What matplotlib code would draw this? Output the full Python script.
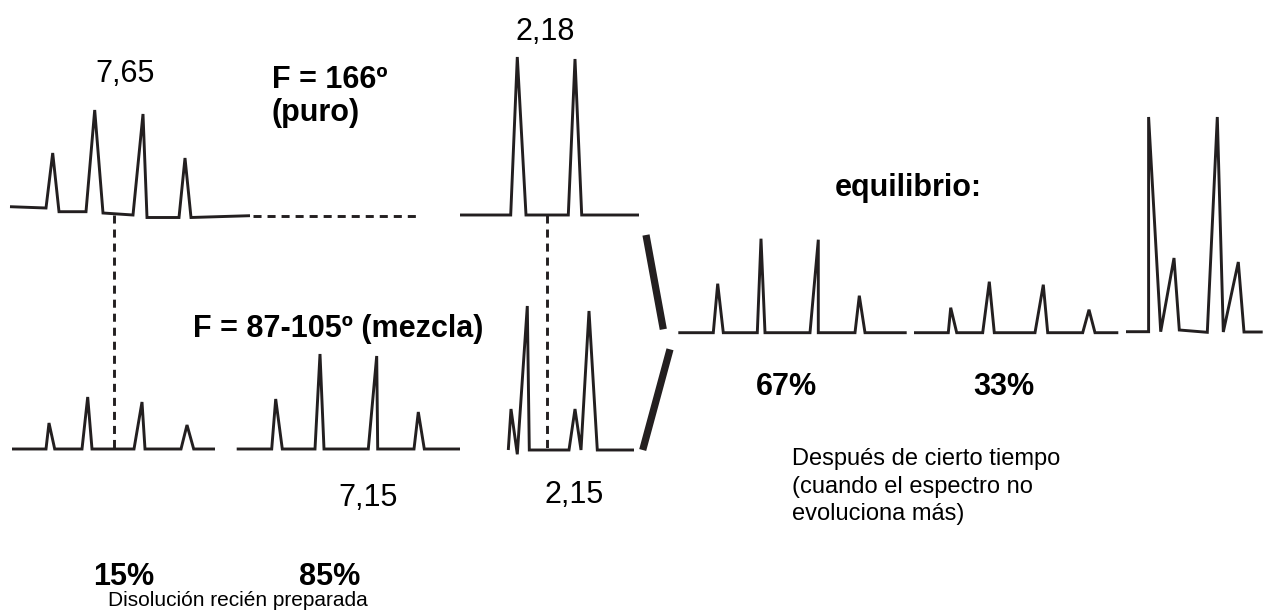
import matplotlib
matplotlib.use("Agg")
import matplotlib.pyplot as plt
import numpy as np

plt.rcParams["font.family"] = ["Liberation Sans", "DejaVu Sans"]
plt.rcParams["lines.scale_dashes"] = False

INK = "#231f20"

# --- Spectrum traces: vertex positions (x) and intensity above baseline (h) ---
# Pure compound (F = 166º): aromatic region and aliphatic region
pure_arom_x = [10, 46, 52.7, 59, 86, 94.7, 103, 133, 143, 147, 179, 185, 191, 250]
pure_arom_h = [8.3, 7, 62, 3.3, 3.3, 105, 2, 0, 101, -2.5, -2.5, 57, -2.5, -0.7]
pure_aliph_x = [460, 510.7, 517.3, 526, 568.3, 575, 581.7, 639]
pure_aliph_h = [0, 0, 158, 0, 0, 156, 0, 0]

# Mixture (F = 87-105º), freshly prepared solution
minor_arom_x = [12, 46, 49, 54.7, 82, 87.7, 92, 134, 142, 145, 181, 187, 193.7, 215]
minor_arom_h = [0, 0, 26, 0, 0, 52, 0, 0, 47, 0, 0, 24, 0, 0]
major_arom_x = [236.7, 271.7, 275.7, 282.3, 315, 320, 324, 368.3, 376.7, 377.7,
                414, 418.3, 424.3, 460]
major_arom_h = [0, 0, 50, 0, 0, 95, 0, 0, 93, 0, 0, 37, 0, 0]
mix_aliph_x = [508.3, 511, 517.3, 527.3, 529.3, 569, 575, 581, 589, 597.3, 634]
mix_aliph_h = [0, 41, -4.3, 144, 0, 0, 41, 0, 139, 0, 0]

# Equilibrium mixture
eq_major_x = [678.3, 713.3, 717.7, 723.3, 757.3, 761, 765, 810, 818.3, 818.3,
              855, 859.3, 865, 906.7]
eq_major_h = [0, 0, 49, 0, 0, 94, 0, 0, 93, 0, 0, 37, 0, 0]
eq_minor_x = [914, 948.3, 950.7, 956.7, 982.7, 989.3, 994.3, 1035, 1043.3, 1047.7,
              1082.7, 1089, 1095, 1118.3]
eq_minor_h = [0, 0, 25, 0, 0, 51, 0, 0, 48, 0, 0, 23, 0, 0]
eq_aliph_x = [1126, 1148.6, 1148.6, 1160.7, 1174, 1179.3, 1207.3, 1217.3, 1223.3,
              1238.3, 1244, 1262.7]
eq_aliph_h = [0.3, 0.3, 215, 0.3, 74, 2, -0.3, 215, 0, 70, 0, 0]

# Chemical shifts and proportions
shift_arom_pure, shift_aliph_pure = "7,65", "2,18"
shift_arom_mix, shift_aliph_mix = "7,15", "2,15"
fresh_pct = ["15%", "85%"]
eq_pct = ["67%", "33%"]

W, H = 1263, 611
fig = plt.figure(figsize=(W / 100, H / 100), dpi=100)
ax = fig.add_axes([0, 0, 1, 1])
ax.set_xlim(0, W)
ax.set_ylim(H, 0)
ax.axis("off")

LW = 2.1


def trace(xs, hs, base):
    xs = np.asarray(xs, float)
    ys = base - np.asarray(hs, float)
    ax.plot(xs, ys, color=INK, lw=LW, solid_joinstyle="miter",
            solid_capstyle="butt")


trace(pure_arom_x, pure_arom_h, 215)
trace(pure_aliph_x, pure_aliph_h, 215)
trace(minor_arom_x, minor_arom_h, 449)
trace(major_arom_x, major_arom_h, 449)
trace(mix_aliph_x, mix_aliph_h, 450)
trace(eq_major_x, eq_major_h, 332.7)
trace(eq_minor_x, eq_minor_h, 332.7)
trace(eq_aliph_x, eq_aliph_h, 332)

# Dashed guides
dash = dict(color=INK, lw=LW, dashes=(5.8, 4.3))
ax.plot([253, 420], [216, 216], **dash)
ax.plot([114, 114], [215, 449], **dash)
ax.plot([546.7, 546.7], [215, 450], **dash)

# Thick bracket joining the spectra to the equilibrium state
ax.plot([646, 663.3], [235, 329.3], color=INK, lw=5.2, solid_capstyle="butt")
ax.plot([670, 642.7], [349.3, 450], color=INK, lw=5.2, solid_capstyle="butt")

fs = 22
ax.text(125.5, 82, shift_arom_pure, fontsize=fs, ha="center", va="baseline")
ax.text(545, 40, shift_aliph_pure, fontsize=fs, ha="center", va="baseline")
ax.text(271.7, 88.3, "F = 166º", fontsize=fs, fontweight="bold", va="baseline")
ax.text(271.7, 121.5, "(puro)", fontsize=fs, fontweight="bold", va="baseline")
ax.text(908, 196, "equilibrio:", fontsize=fs, fontweight="bold",
        ha="center", va="baseline")
ax.text(192.7, 336.7, "F = 87-105º (mezcla)", fontsize=fs, fontweight="bold",
        va="baseline")
ax.text(786, 395, eq_pct[0], fontsize=fs, fontweight="bold", ha="center", va="baseline")
ax.text(1004, 395, eq_pct[1], fontsize=fs, fontweight="bold", ha="center", va="baseline")
ax.text(368, 506, shift_arom_mix, fontsize=fs, ha="center", va="baseline")
ax.text(574, 503, shift_aliph_mix, fontsize=fs, ha="center", va="baseline")
ax.text(124, 585, fresh_pct[0], fontsize=fs, fontweight="bold", ha="center", va="baseline")
ax.text(330, 585, fresh_pct[1], fontsize=fs, fontweight="bold", ha="center", va="baseline")
ax.text(238, 606, "Disolución recién preparada", fontsize=15, ha="center",
        va="baseline")
for i, line in enumerate(["Después de cierto tiempo", "(cuando el espectro no",
                          "evoluciona más)"]):
    ax.text(791.7, 465 + 27.5 * i, line, fontsize=17, va="baseline")

fig.savefig("out.png", dpi=100)
